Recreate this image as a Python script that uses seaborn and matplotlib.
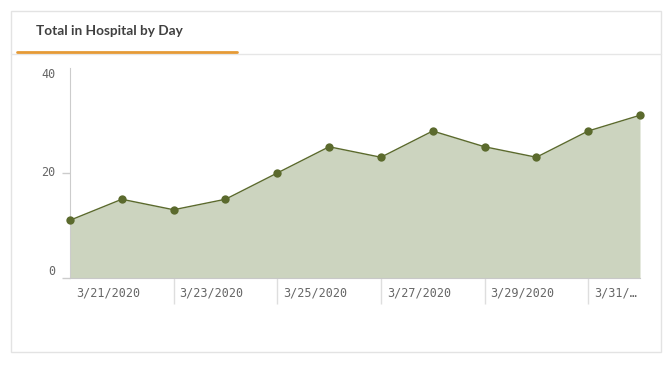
import numpy as np
import pandas as pd
import matplotlib
matplotlib.use("Agg")
import matplotlib.pyplot as plt
import matplotlib.transforms as mtransforms
from matplotlib.lines import Line2D
from matplotlib.patches import Rectangle
import seaborn as sns

# data
dates = ["3/20/2020", "3/21/2020", "3/22/2020", "3/23/2020", "3/24/2020", "3/25/2020",
         "3/26/2020", "3/27/2020", "3/28/2020", "3/29/2020", "3/30/2020", "3/31/2020"]
in_hospital = [11, 15, 13, 15, 20, 25, 23, 28, 25, 23, 28, 31]
tick_labels = ["3/21/2020", "3/23/2020", "3/25/2020", "3/27/2020", "3/29/2020", "3/31/\u2026"]
y_ticks = [0, 20, 40]

sns.set_style("white")
plt.rcParams["font.family"] = ["DejaVu Sans Mono"]

W, H = 671, 367
fig = plt.figure(figsize=(W / 100, H / 100), dpi=100)


def fx(x):
    return x / W


def fy(y):
    return 1 - y / H


# panel frame, header line and orange underline
fig.add_artist(Rectangle((fx(11), fy(352)), fx(661) - fx(11), fy(11) - fy(352),
                         transform=fig.transFigure, fill=False, edgecolor="#e3e3e3", linewidth=1))
fig.add_artist(Line2D([fx(11), fx(661)], [fy(54), fy(54)], transform=fig.transFigure,
                      color="#e6e6e6", linewidth=1))
fig.add_artist(Line2D([fx(17), fx(237)], [fy(52), fy(52)], transform=fig.transFigure,
                      color="#e59a36", linewidth=2))
fig.text(fx(36), fy(31), "Total in Hospital by Day", ha="left", va="center",
         fontsize=9.8, fontweight="bold", color="#404040", family=["Lato", "DejaVu Sans"])

ax = fig.add_axes([fx(70), fy(278), fx(640) - fx(70), fy(68) - fy(278)])
df = pd.DataFrame({"date": dates, "value": in_hospital})
df["idx"] = np.arange(len(df))

ax.fill_between(df["idx"], df["value"], 0, color="#ccd4bf", linewidth=0)
sns.lineplot(data=df, x="idx", y="value", ax=ax, color="#5b6a2d", linewidth=1,
             marker="o", markersize=6, markeredgewidth=0, clip_on=False, zorder=5)

ax.set_xlim(0, len(df) - 1)
ax.set_ylim(0, 40)
ax.set_xlabel("")
ax.set_ylabel("")

for side in ["top", "right"]:
    ax.spines[side].set_visible(False)
ax.spines["left"].set_color("#cccccc")
ax.spines["bottom"].set_color("#c8c8c8")

# y axis
ax.set_yticks(y_ticks)
ax.set_yticklabels([str(v) for v in y_ticks])
ax.tick_params(axis="y", left=True, length=5.8, width=1, color="#cccccc", pad=4.5,
               labelsize=8.5, labelcolor="#666666")
for lab, va in zip(ax.get_yticklabels(), ["bottom", "center", "top"]):
    lab.set_va(va)
ax.yaxis.get_major_ticks()[2].tick1line.set_visible(False)

# x axis: labels left-aligned, separators as minor ticks
ax.xaxis.remove_overlapping_locs = False
ax.set_xticks(df["idx"][0::2])
ax.set_xticklabels(tick_labels)
ax.set_xticks(df["idx"][2::2], minor=True)
ax.tick_params(axis="x", which="major", bottom=True, length=0, pad=6,
               labelsize=8.5, labelcolor="#666666")
ax.tick_params(axis="x", which="minor", bottom=True, length=18.5, width=1, color="#dedede")
offset = mtransforms.ScaledTranslation(6 / 100, 0, fig.dpi_scale_trans)
for lab in ax.get_xticklabels():
    lab.set_ha("left")
    lab.set_transform(lab.get_transform() + offset)

ax.grid(False)
fig.savefig("out.png", dpi=100)
